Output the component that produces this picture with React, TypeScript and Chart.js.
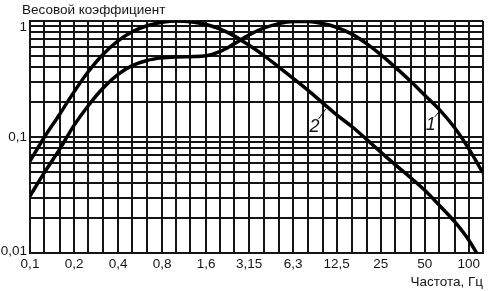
import React, { useEffect, useRef } from "react";
import { Chart, registerables } from "chart.js";

Chart.register(...registerables);

// Third-octave grid frequencies (Hz)
const gridFreqs = [0.1, 0.125, 0.16, 0.2, 0.25, 0.315, 0.4, 0.5, 0.63, 0.8, 1, 1.25, 1.6, 2, 2.5, 3.15, 4, 5, 6.3, 8, 10, 12.5, 16, 20, 25, 31.5, 40, 50, 63, 80, 100, 125];
const xLabelFreqs = [0.1, 0.2, 0.4, 0.8, 1.6, 3.15, 6.3, 12.5, 25, 50, 100];
const xLabelTexts = ["0,1", "0,2", "0,4", "0,8", "1,6", "3,15", "6,3", "12,5", "25", "50", "100"];

const yGridValues = [0.01, 0.02, 0.03, 0.04, 0.05, 0.06, 0.07, 0.08, 0.09, 0.1, 0.2, 0.3, 0.4, 0.5, 0.6, 0.7, 0.8, 0.9, 1];
const yLabelValues = [0.01, 0.1, 1];
const yLabelTexts = ["0,01", "0,1", "1"];

// Curve 1
const curve1Freqs = [0.1, 0.125, 0.16, 0.2, 0.25, 0.315, 0.4, 0.5, 0.63, 0.8, 1, 1.25, 1.6, 2, 2.5, 3.15, 4, 5, 6.3, 8, 10, 12.5, 16, 20, 25, 31.5, 40, 50, 63, 80, 100, 125];
const curve1Values = [0.031, 0.049, 0.079, 0.126, 0.186, 0.263, 0.347, 0.412, 0.457, 0.481, 0.49, 0.493, 0.501, 0.547, 0.638, 0.759, 0.871, 0.95, 0.991, 0.991, 0.95, 0.881, 0.767, 0.638, 0.513, 0.398, 0.302, 0.229, 0.172, 0.12, 0.079, 0.049];

// Curve 2
const curve2Freqs = [0.1, 0.125, 0.16, 0.2, 0.25, 0.315, 0.4, 0.5, 0.63, 0.8, 1, 1.25, 1.6, 2, 2.5, 3.15, 4, 5, 6.3, 8, 10, 12.5, 16, 20, 25, 31.5, 40, 50, 63, 80, 100, 112, 125];
const curve2Values = [0.062, 0.099, 0.158, 0.245, 0.365, 0.515, 0.675, 0.808, 0.91, 0.975, 1.0, 0.986, 0.933, 0.851, 0.741, 0.617, 0.501, 0.403, 0.32, 0.251, 0.197, 0.155, 0.122, 0.0955, 0.0741, 0.0575, 0.0447, 0.0347, 0.0257, 0.0186, 0.0129, 0.0102, 0.0079];

// Curve number labels and their leader lines (data coordinates)
const curveLabelTexts = ["1", "2"];
const curveLabelFreqs = [55, 8.8];
const curveLabelValues = [0.127, 0.122];
const leaderStartFreqs = [58.5, 9.4];
const leaderStartValues = [0.149, 0.143];
const leaderEndFreqs = [63.2, 10.5];
const leaderEndValues = [0.168, 0.174];

const yTitle = "Весовой коэффициент";
const xTitle = "Частота, Гц";

const FONT = '"Liberation Sans", Arial, sans-serif';
const INK = "#151515";

export default function App() {
  const canvasRef = useRef<HTMLCanvasElement | null>(null);

  useEffect(() => {
    const canvas = canvasRef.current;
    if (!canvas) return;

    const overlay = {
      id: "overlay",
      afterDraw(chart: any) {
        const { ctx, chartArea, scales } = chart;
        const xs = scales.x;
        const ys = scales.y;
        ctx.save();
        ctx.fillStyle = INK;
        // titles
        ctx.font = `13.5px ${FONT}`;
        ctx.textBaseline = "middle";
        ctx.textAlign = "left";
        ctx.fillText(yTitle, chartArea.left - 8, chartArea.top - 11);
        ctx.textAlign = "right";
        ctx.fillText(xTitle, chartArea.right, chartArea.bottom + 29);
        // y labels
        ctx.textAlign = "right";
        yLabelValues.forEach((v, i) => {
          let py = ys.getPixelForValue(v);
          py = Math.max(py, chartArea.top + 6);
          py = Math.min(py, chartArea.bottom - 2);
          ctx.fillText(yLabelTexts[i], chartArea.left - 3, py);
        });
        // curve labels
        ctx.font = `italic 18px ${FONT}`;
        ctx.textAlign = "center";
        curveLabelTexts.forEach((t, i) => {
          ctx.fillText(t, xs.getPixelForValue(curveLabelFreqs[i]), ys.getPixelForValue(curveLabelValues[i]));
          ctx.beginPath();
          ctx.lineWidth = 1;
          ctx.strokeStyle = INK;
          ctx.moveTo(xs.getPixelForValue(leaderStartFreqs[i]), ys.getPixelForValue(leaderStartValues[i]));
          ctx.lineTo(xs.getPixelForValue(leaderEndFreqs[i]), ys.getPixelForValue(leaderEndValues[i]));
          ctx.stroke();
        });
        ctx.restore();
      },
    };

    const chart = new Chart(canvas, {
      type: "line",
      data: {
        datasets: [
          {
            label: "1",
            data: curve1Freqs.map((f, i) => ({ x: f, y: curve1Values[i] })),
            borderColor: "#000",
            borderWidth: 3.5,
            pointRadius: 0,
            cubicInterpolationMode: "monotone",
            fill: false,
          },
          {
            label: "2",
            data: curve2Freqs.map((f, i) => ({ x: f, y: curve2Values[i] })),
            borderColor: "#000",
            borderWidth: 3.5,
            pointRadius: 0,
            cubicInterpolationMode: "monotone",
            fill: false,
          },
        ],
      },
      options: {
        responsive: false,
        animation: false,
        layout: { padding: { top: 21, right: 6, left: 0, bottom: 0 } },
        plugins: {
          legend: { display: false },
          tooltip: { enabled: false },
          title: { display: false },
        },
        scales: {
          x: {
            type: "logarithmic",
            min: 0.1,
            max: 125,
            afterBuildTicks: (scale: any) => {
              scale.ticks = gridFreqs.map((v) => ({ value: v }));
            },
            afterFit: (scale: any) => {
              scale.height = 38;
            },
            grid: { color: INK, lineWidth: 2, drawTicks: false },
            border: { display: true, color: INK, width: 2 },
            ticks: {
              autoSkip: false,
              maxRotation: 0,
              padding: 3,
              color: INK,
              font: { family: FONT, size: 13.5 },
              callback: (value: any) => {
                const idx = xLabelFreqs.findIndex((f) => Math.abs(f - Number(value)) < 1e-6);
                return idx >= 0 ? xLabelTexts[idx] : "";
              },
            },
          },
          y: {
            type: "logarithmic",
            min: 0.01,
            max: 1,
            afterBuildTicks: (scale: any) => {
              scale.ticks = yGridValues.map((v) => ({ value: v }));
            },
            afterFit: (scale: any) => {
              scale.width = 30;
            },
            grid: { color: INK, lineWidth: 2, drawTicks: false },
            border: { display: true, color: INK, width: 2 },
            ticks: { display: false },
          },
        },
      },
      plugins: [overlay],
    } as any);

    return () => chart.destroy();
  }, []);

  return (
    <div style={{ position: "absolute", left: 0, top: 0, width: 489, height: 291, background: "#fff" }}>
      <canvas ref={canvasRef} width={489} height={291} />
    </div>
  );
}
